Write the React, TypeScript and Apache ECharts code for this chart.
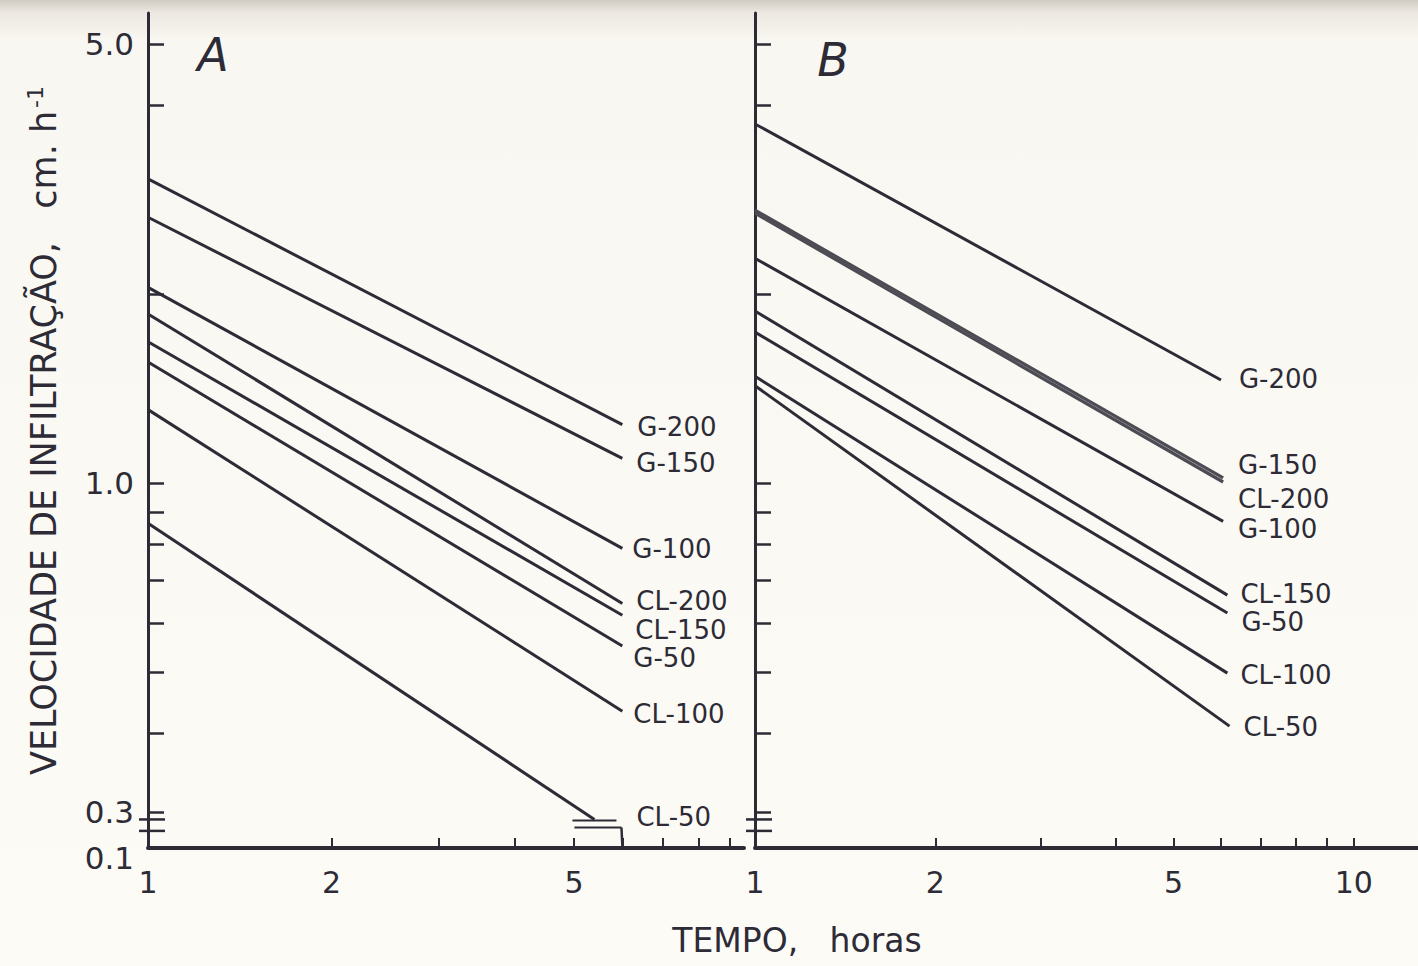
import React, { useEffect, useRef } from "react";
import * as echarts from "echarts";

const FONT = "'DejaVu Sans', 'Liberation Sans', sans-serif";
const INK = "#2c2b36";

// ---- Data: panel A (infiltration velocity, cm/h, vs time, hours) ----
const namesA = ["G-200", "G-150", "G-100", "CL-200", "CL-150", "G-50", "CL-100", "CL-50"];
const tStartA = [1, 1, 1, 1, 1, 1, 1, 1];
const tEndA = [6, 6, 6, 6, 6, 6, 6, 5.4];
const vStartA = [3.05, 2.65, 2.05, 1.86, 1.68, 1.56, 1.31, 0.864];
const vEndA = [1.24, 1.096, 0.788, 0.644, 0.617, 0.551, 0.434, 0.292];

// ---- Data: panel B ----
const namesB = ["G-200", "G-150", "CL-200", "G-100", "CL-150", "G-50", "CL-100", "CL-50"];
const tStartB = [1, 1, 1, 1, 1, 1, 1, 1];
const tEndB = [6, 6.05, 6.05, 6.05, 6.15, 6.15, 6.15, 6.2];
const vStartB = [3.73, 2.72, 2.69, 2.28, 1.88, 1.74, 1.48, 1.43];
const vEndB = [1.46, 1.02, 1.005, 0.87, 0.664, 0.622, 0.499, 0.411];

// ---- Axis ticks / labels ----
const xTickValuesA = [2, 3, 4, 5, 6, 7, 8, 9];
const xLabelValuesA = [1, 2, 5];
const xTickValuesB = [2, 3, 4, 5, 6, 7, 8, 9, 10];
const xLabelValuesB = [1, 2, 5, 10];
const yTickValues = [5, 4, 2, 1, 0.9, 0.8, 0.7, 0.6, 0.5, 0.4, 0.3];
const yLabelValues = [5, 1, 0.3];
const yLabelTexts = ["5.0", "1.0", "0.3"];
const yBreakLabel = "0.1";
const yBreakValues = [0.292, 0.28];
const panelLetters = ["A", "B"];
const xTitle = "TEMPO,   horas";
const yTitleMain = "VELOCIDADE DE INFILTRAÇÃO,   cm. h";
const yTitleSup = "-1";

// ---- Label placement (styles, not data) ----
const labelOffsetA = [[15, 2], [14, 5], [10, 1], [14, -2], [13, 15], [11, 12], [11, 3], [42, -2]];
const labelOffsetB = [[18, -1], [15, -13], [15, 17], [15, 8], [13, -1], [14, 9], [13, 2], [14, 1]];

const Y_MIN = 0.263;
const Y_MAX = 5.6;

function makeSeries(
  names: string[], tS: number[], tE: number[], vS: number[], vE: number[],
  offs: number[][], idx: number
) {
  return names.map((n, i) => {
    const doubled = idx === 1 && (n === "G-150" || n === "CL-200");
    return {
      type: "line",
      name: n + (idx === 0 ? " A" : " B"),
      xAxisIndex: idx,
      yAxisIndex: idx,
      symbol: "none",
      silent: true,
      data: [[tS[i], vS[i]], [tE[i], vE[i]]],
      lineStyle: { color: doubled ? "#4d4b53" : INK, width: doubled ? 3.2 : 3 },
      endLabel: {
        show: true,
        formatter: () => n,
        distance: 0,
        offset: offs[i],
        color: INK,
        fontFamily: FONT,
        fontSize: 26,
        lineHeight: 24,
      },
    };
  });
}

function xAxisCfg(idx: number, max: number, ticks: number[], labels: number[]) {
  return {
    type: "log",
    logBase: 10,
    gridIndex: idx,
    min: 1,
    max,
    axisLine: { show: true, lineStyle: { color: INK, width: 4 } },
    axisTick: { show: true, inside: true, length: 10, customValues: ticks, lineStyle: { color: INK, width: 2 } },
    axisLabel: {
      show: true,
      customValues: labels,
      formatter: (v: number) => String(Math.round(v)),
      color: INK,
      fontFamily: FONT,
      fontSize: 30,
      margin: 19,
    },
    splitLine: { show: false },
    minorTick: { show: false },
  };
}

function yAxisCfg(idx: number) {
  return {
    type: "log",
    logBase: 10,
    gridIndex: idx,
    min: Y_MIN,
    max: Y_MAX,
    axisLine: { show: true, lineStyle: { color: INK, width: 3 } },
    axisTick: { show: true, inside: true, length: 16, customValues: yTickValues, lineStyle: { color: INK, width: 2.5 } },
    axisLabel: {
      show: idx === 0,
      customValues: yLabelValues,
      formatter: (v: number) => {
        const k = yLabelValues.findIndex((x) => Math.abs(x - v) / x < 1e-6);
        return k >= 0 ? yLabelTexts[k] : "";
      },
      color: INK,
      fontFamily: FONT,
      fontSize: 31,
      margin: 14,
    },
    splitLine: { show: false },
    minorTick: { show: false },
    name: idx === 0 ? `{a|${yTitleMain}}{s|${yTitleSup}}` : "",
    nameLocation: "middle",
    nameRotate: 90,
    nameGap: 84,
    nameTextStyle: {
      rich: {
        a: { fontFamily: FONT, fontSize: 35, color: INK },
        s: { fontFamily: FONT, fontSize: 22, color: INK, padding: [0, 0, 18, 3] },
      },
    },
  };
}

export default function App() {
  const ref = useRef<HTMLDivElement>(null);
  useEffect(() => {
    const chart = echarts.init(ref.current!, null, { renderer: "svg" });
    const option: any = {
      animation: false,
      backgroundColor: "transparent",
      grid: [
        { left: 148, top: 13, width: 596, height: 835 },
        { left: 755, top: 13, width: 663, height: 835 },
      ],
      xAxis: [xAxisCfg(0, 9.5, xTickValuesA, xLabelValuesA), xAxisCfg(1, 12.8, xTickValuesB, xLabelValuesB)],
      yAxis: [yAxisCfg(0), yAxisCfg(1)],
      series: [
        ...makeSeries(namesA, tStartA, tEndA, vStartA, vEndA, labelOffsetA, 0),
        ...makeSeries(namesB, tStartB, tEndB, vStartB, vEndB, labelOffsetB, 1),
      ],
    };
    chart.setOption(option);

    const px = (gi: number, t: number, v: number) =>
      chart.convertToPixel({ xAxisIndex: gi, yAxisIndex: gi } as any, [t, v]) as number[];

    const graphics: any[] = [];
    // axis break marks on both y axes
    [0, 1].forEach((gi) => {
      yBreakValues.forEach((bv) => {
        const p = px(gi, 1, bv);
        graphics.push({
          type: "line",
          shape: { x1: p[0] - 9, y1: p[1], x2: p[0] + 17, y2: p[1] },
          style: { stroke: INK, lineWidth: 2.5 },
        });
      });
    });
    // "0.1" label at the broken bottom of the A axis
    const pb = px(0, 1, Y_MIN);
    graphics.push({
      type: "text",
      x: pb[0] - 14,
      y: pb[1] + 10,
      style: { text: yBreakLabel, fill: INK, font: `31px ${FONT}`, align: "right", verticalAlign: "middle" },
    });
    // break marker at the end of CL-50 in panel A
    const iCL50 = namesA.indexOf("CL-50");
    const e = px(0, tEndA[iCL50], vEndA[iCL50]);
    const gridBottom = px(0, 1, Y_MIN)[1];
    graphics.push(
      { type: "line", shape: { x1: e[0] - 22, y1: e[1] + 1, x2: e[0] + 22, y2: e[1] + 1 }, style: { stroke: INK, lineWidth: 2 } },
      { type: "line", shape: { x1: e[0] - 20, y1: e[1] + 8, x2: e[0] + 27, y2: e[1] + 8 }, style: { stroke: INK, lineWidth: 2 } },
      { type: "line", shape: { x1: e[0] + 27, y1: e[1] + 8, x2: e[0] + 28, y2: gridBottom }, style: { stroke: INK, lineWidth: 2.5 } }
    );
    // panel letters and x-axis title
    const pa = px(0, 1, Y_MAX);
    const pB = px(1, 1, Y_MAX);
    graphics.push(
      {
        type: "text", x: pa[0] + 65, y: pa[1] + 42,
        style: { text: panelLetters[0], fill: INK, font: `italic 46px ${FONT}`, align: "center", verticalAlign: "middle" },
      },
      {
        type: "text", x: pB[0] + 78, y: pB[1] + 47,
        style: { text: panelLetters[1], fill: INK, font: `italic 46px ${FONT}`, align: "center", verticalAlign: "middle" },
      },
      {
        type: "text", x: 797, y: 940,
        style: { text: xTitle, fill: INK, font: `33px ${FONT}`, align: "center", verticalAlign: "middle" },
      }
    );
    chart.setOption({ graphic: graphics });
    return () => chart.dispose();
  }, []);

  return (
    <div
      style={{
        position: "absolute",
        left: 0,
        top: 0,
        width: 1418,
        height: 966,
        background: "linear-gradient(to bottom, #cfcac2 0px, #ece8e1 12px, #f9f7f1 40px, #fcfbf6 100%)",
      }}
    >
      <div ref={ref} style={{ width: 1418, height: 966 }} />
    </div>
  );
}
